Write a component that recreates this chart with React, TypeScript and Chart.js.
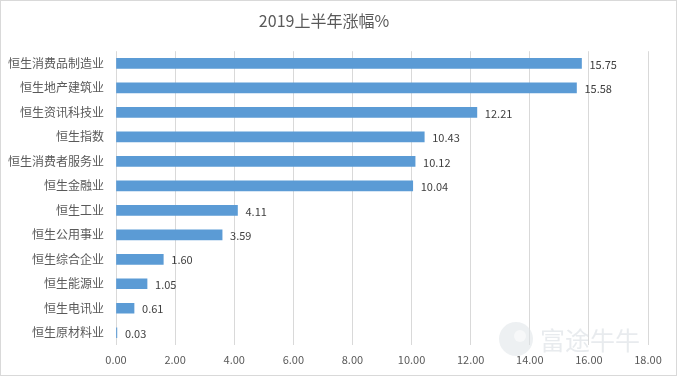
import React, { useEffect, useRef } from "react";
import { Chart, registerables } from "chart.js";

Chart.register(...registerables);

const categories = [
  "恒生消费品制造业",
  "恒生地产建筑业",
  "恒生资讯科技业",
  "恒生指数",
  "恒生消费者服务业",
  "恒生金融业",
  "恒生工业",
  "恒生公用事业",
  "恒生综合企业",
  "恒生能源业",
  "恒生电讯业",
  "恒生原材料业",
];
const values = [15.75, 15.58, 12.21, 10.43, 10.12, 10.04, 4.11, 3.59, 1.6, 1.05, 0.61, 0.03];
const titleText = "2019上半年涨幅%";
const watermarkText = "富途牛牛";
const xMin = 0;
const xMax = 18;
const xStep = 2;

const FONT = "'Noto Sans CJK SC', 'Noto Sans', sans-serif";

export default function App() {
  const ref = useRef<HTMLCanvasElement | null>(null);

  useEffect(() => {
    if (!ref.current) return;
    const bgPlugin = {
      id: "bg",
      beforeDraw(chart: any) {
        const { ctx, width, height } = chart;
        ctx.save();
        ctx.fillStyle = "#ffffff";
        ctx.fillRect(0, 0, width, height);
        ctx.strokeStyle = "#d9d9d9";
        ctx.lineWidth = 1;
        ctx.strokeRect(0.5, 0.5, width - 1, height - 1);
        ctx.restore();
      },
    };
    const labelPlugin = {
      id: "dataLabels",
      afterDatasetsDraw(chart: any) {
        const { ctx } = chart;
        const meta = chart.getDatasetMeta(0);
        ctx.save();
        ctx.font = `11px ${FONT}`;
        ctx.fillStyle = "#404040";
        ctx.textAlign = "left";
        ctx.textBaseline = "middle";
        meta.data.forEach((bar: any, i: number) => {
          ctx.fillText(values[i].toFixed(2), bar.x + 8, bar.y + 1);
        });
        ctx.restore();
      },
    };
    const watermarkPlugin = {
      id: "watermark",
      afterDraw(chart: any) {
        const { ctx } = chart;
        ctx.save();
        ctx.globalAlpha = 0.55;
        ctx.fillStyle = "#dfe3e8";
        ctx.beginPath();
        ctx.arc(516, 339, 17, 0, Math.PI * 2);
        ctx.fill();
        ctx.fillStyle = "#ffffff";
        ctx.beginPath();
        ctx.arc(520, 336, 6, 0, Math.PI * 2);
        ctx.fill();
        ctx.fillStyle = "#d5dae0";
        ctx.font = `25px ${FONT}`;
        ctx.textAlign = "left";
        ctx.textBaseline = "middle";
        ctx.fillText(watermarkText, 540, 340);
        ctx.restore();
      },
    };
    const chart = new Chart(ref.current, {
      type: "bar",
      data: {
        labels: categories,
        datasets: [
          {
            data: values,
            backgroundColor: "#5b9bd5",
            borderWidth: 0,
            barThickness: 10,
          },
        ],
      },
      options: {
        indexAxis: "y",
        animation: false,
        responsive: false,
        maintainAspectRatio: false,
        layout: { padding: { left: 0, right: 29, top: 0, bottom: 0 } },
        plugins: {
          legend: { display: false },
          tooltip: { enabled: false },
          title: {
            display: true,
            text: titleText,
            color: "#595959",
            font: { family: FONT, size: 16, weight: "normal" },
            padding: { top: 11, bottom: 21 },
          },
        },
        scales: {
          x: {
            min: xMin,
            max: xMax,
            ticks: {
              stepSize: xStep,
              color: "#595959",
              font: { family: FONT, size: 11 },
              padding: 8,
              callback: (v: any) => Number(v).toFixed(2),
            },
            grid: { color: "#d9d9d9", drawTicks: false, tickLength: 0 },
            border: { display: false },
            afterFit(scale: any) {
              scale.height = 31;
            },
          },
          y: {
            ticks: {
              color: "#595959",
              font: { family: FONT, size: 12 },
              padding: 12,
            },
            grid: { display: false, drawTicks: false, tickLength: 0 },
            border: { display: false },
            afterFit(scale: any) {
              scale.width = 116;
            },
          },
        },
      },
      plugins: [bgPlugin, labelPlugin, watermarkPlugin],
    });
    return () => chart.destroy();
  }, []);

  return (
    <div style={{ position: "absolute", left: 0, top: 0, width: 677, height: 376 }}>
      <canvas ref={ref} width={677} height={376} style={{ display: "block" }} />
    </div>
  );
}
